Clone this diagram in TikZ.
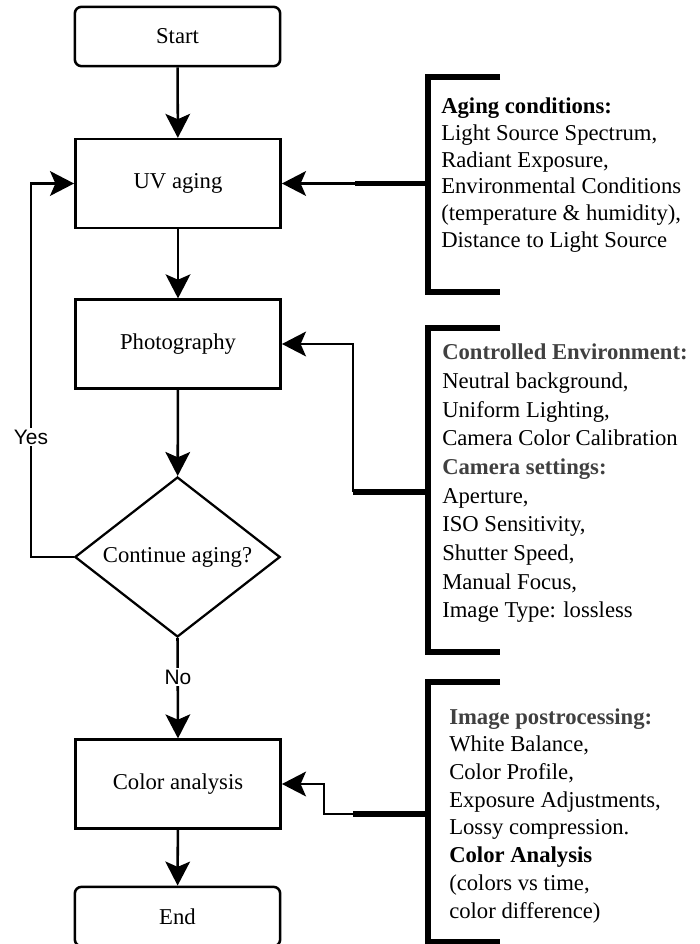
\documentclass[tikz,border=0pt]{standalone}
\usepackage{fontspec}
\setmainfont{Liberation Serif}
\newfontfamily\sansf{Liberation Sans}
\usetikzlibrary{arrows.meta,shapes.geometric}
\definecolor{hdrgray}{HTML}{404040}
\begin{document}
\begin{tikzpicture}[x=0.75pt,y=-0.75pt,
  every node/.style={font=\fontsize{17}{20}\selectfont},
  procbox/.style={draw,line width=1.9pt,minimum width=154pt,minimum height=66.5pt,inner sep=0pt},
  termbox/.style={draw,line width=1.9pt,rounded corners=5pt,minimum width=154pt,minimum height=44.5pt,inner sep=0pt},
  decbox/.style={draw,diamond,line width=1.7pt,minimum width=154pt,minimum height=120pt,inner sep=0pt,shape aspect=1.28},
  flow/.style={line width=1.9pt,-{Stealth[length=18pt,width=18.5pt,inset=4pt]}},
  thinln/.style={line width=1.9pt},
  thickln/.style={line width=3.9pt},
  notes/.style={anchor=north west,inner sep=0pt,align=left},
  yesno/.style={fill=white,inner sep=1.5pt,font=\sansf\fontsize{15.7}{18}\selectfont}]
\useasboundingbox (0,0) rectangle (699,944);

% flow nodes
\node[termbox] (start) at (177.5,36.5) {Start};
\node[procbox] (uv) at (178,183.5) {UV aging};
\node[procbox] (photo) at (178,344) {Photography};
\node[decbox] (dec) at (177.5,557) {Continue aging?};
\node[procbox] (color) at (178,784) {Color analysis};
\node[termbox] (end) at (177.5,916.5) {End};

% main connectors
\draw[flow] (start) -- (uv);
\draw[flow] (uv) -- (photo);
\draw[flow] (photo) -- (dec);
\draw[flow] (dec.south) -- (color.north);
\draw[flow] (color) -- (end);
\coordinate (yesa) at (31,557);
\coordinate (yesb) at (31,183.5);
\draw[flow] (dec.west) -- (yesa) -- (yesb) -- (uv.west);
\node[yesno] (yes) at (31,437) {Yes};
\node[yesno] (no) at (178,677) {No};

% top bracket
\coordinate (b1t) at (428,77);
\coordinate (b1b) at (428,292);
\draw[thickln] (500,77) -- (b1t) -- (b1b) -- (500,292);
\coordinate (c1) at (355,183.5);
\coordinate (c1b) at (428,183.5);
\draw[flow] (c1) -- (uv.east);
\draw[thickln] (c1) -- (c1b);
\node[notes] (aging) at (441,98) {\textbf{Aging conditions:}\\Light Source Spectrum,\\Radiant Exposure,\\Environmental Conditions\\(temperature \& humidity),\\Distance to Light Source};

% middle bracket
\draw[thickln] (500,328) -- (428,328) -- (428,652) -- (500,652);
\coordinate (c2) at (353,492);
\coordinate (c2u) at (353,344);
\coordinate (c2b) at (428,492);
\draw[flow] (c2) -- (c2u) -- (photo.east);
\draw[thickln] (c2) -- (c2b);
\node[notes,font=\fontsize{17}{21.5}\selectfont] (camera) at (442,344) {\textcolor{hdrgray}{\textbf{Controlled Environment:}}\\Neutral background,\\Uniform Lighting,\\Camera Color Calibration\\\textcolor{hdrgray}{\textbf{Camera settings:}}\\Aperture,\\ISO Sensitivity,\\Shutter Speed,\\Manual Focus,\\Image Type: lossless};

% bottom bracket
\draw[thickln] (500,682) -- (428,682) -- (428,942) -- (500,942);
\coordinate (c3) at (353,814);
\coordinate (c3a) at (324,814);
\coordinate (c3u) at (324,784);
\coordinate (c3b) at (428,814);
\draw[flow] (c3) -- (c3a) -- (c3u) -- (color.east);
\draw[thickln] (c3) -- (c3b);
\node[notes,font=\fontsize{17}{20.8}\selectfont] (post) at (449,708) {\textcolor{hdrgray}{\textbf{Image postrocessing:}}\\White Balance,\\Color Profile,\\Exposure Adjustments,\\Lossy compression.\\\textbf{Color Analysis}\\(colors vs time,\\color difference)};
\end{tikzpicture}
\end{document}
